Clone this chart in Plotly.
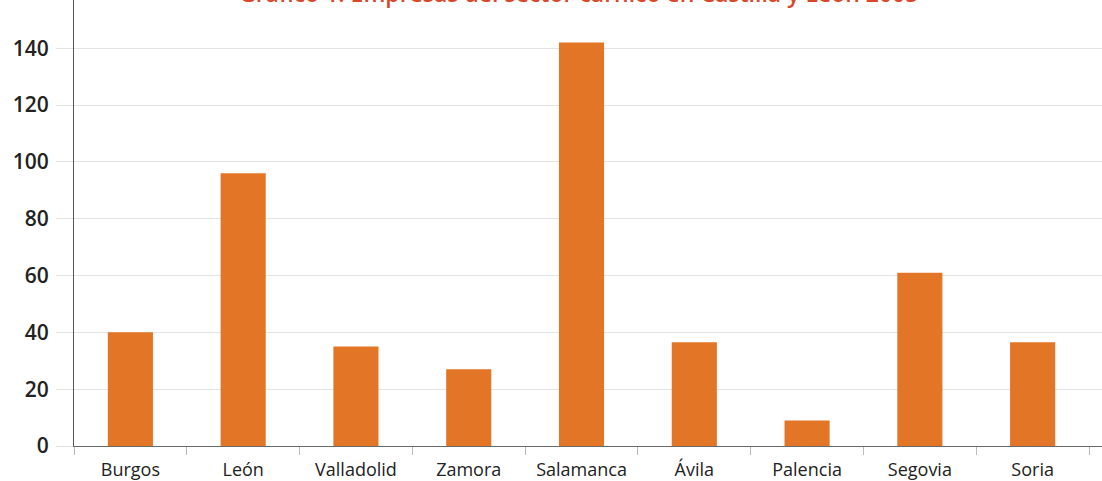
import plotly.graph_objects as go

provincias = ["Burgos", "León", "Valladolid", "Zamora", "Salamanca", "Ávila", "Palencia", "Segovia", "Soria"]
empresas = [40, 96, 35, 27, 142, 36.5, 9, 61, 36.5]
y_ticks = [0, 20, 40, 60, 80, 100, 120, 140]
titulo = "Gráfico 1. Empresas del sector cárnico en Castilla y León 2005"

W, H = 1102, 481
ML, MR, MT, MB = 74, 0, 0, 35

fig = go.Figure(
    go.Bar(
        x=provincias,
        y=empresas,
        marker=dict(color="#e37526", line=dict(width=0)),
        hoverinfo="x+y",
    )
)

fig.update_layout(
    width=W,
    height=H,
    margin=dict(l=ML, r=MR, t=MT, b=MB, pad=0, autoexpand=False),
    paper_bgcolor="white",
    plot_bgcolor="white",
    bargap=0.6,
    showlegend=False,
    font=dict(family="Open Sans", color="#222222"),
)

fig.update_xaxes(
    type="category",
    range=[-0.5, 8.615],
    automargin=False,
    showgrid=False,
    showline=True,
    linecolor="#6a6a6a",
    linewidth=1,
    ticks="outside",
    tickson="boundaries",
    ticklen=8,
    tickcolor="#bbbbbb",
    tickwidth=1,
    ticklabelstandoff=7,
    tickfont=dict(family="Open Sans", size=18, color="#222222"),
    zeroline=False,
)

fig.update_yaxes(
    range=[0, 157],
    tickvals=y_ticks,
    automargin=False,
    showgrid=True,
    gridcolor="#e3e3e3",
    gridwidth=1,
    showline=True,
    linecolor="#555555",
    linewidth=1,
    ticks="outside",
    ticklen=17,
    tickcolor="#e3e3e3",
    ticklabelstandoff=3,
    tickfont=dict(family="Open Sans", size=21, color="#222222", weight=600),
    zeroline=False,
)

fig.add_annotation(
    text=titulo,
    xref="paper",
    yref="paper",
    x=(578 - ML) / (W - ML - MR),
    y=1 - 11 / (H - MT - MB),
    xanchor="center",
    yanchor="bottom",
    showarrow=False,
    font=dict(family="Open Sans", size=23, color="#d9472b", weight=600),
)

fig.write_html(
    "out.html",
    config={"displayModeBar": False},
    post_script="document.body.style.margin='0';document.body.style.overflow='hidden';",
)
